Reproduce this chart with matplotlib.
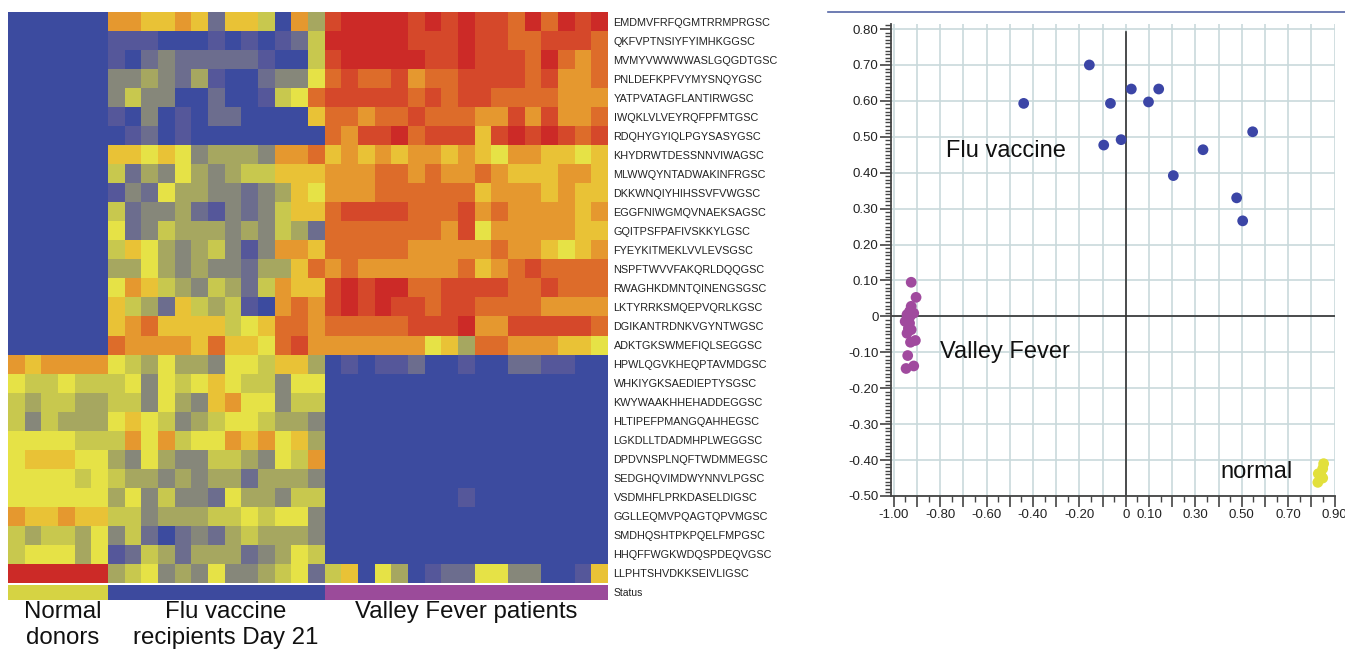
import matplotlib.pyplot as plt
import numpy as np
from matplotlib.colors import ListedColormap
from matplotlib.lines import Line2D
from matplotlib.ticker import MultipleLocator, FuncFormatter

plt.rcParams['font.family'] = ['Liberation Sans', 'DejaVu Sans']

# --- heatmap data (levels 0..B in hex: blue -> grey -> yellow -> orange -> red)
peptides = [
    "EMDMVFRFQGMTRRMPRGSC", "QKFVPTNSIYFYIMHKGGSC", "MVMYVWWWWASLGQGDTGSC",
    "PNLDEFKPFVYMYSNQYGSC", "YATPVATAGFLANTIRWGSC", "IWQKLVLVEYRQFPFMTGSC",
    "RDQHYGYIQLPGYSASYGSC", "KHYDRWTDESSNNVIWAGSC", "MLWWQYNTADWAKINFRGSC",
    "DKKWNQIYHIHSSVFVWGSC", "EGGFNIWGMQVNAEKSAGSC", "GQITPSFPAFIVSKKYLGSC",
    "FYEYKITMEKLVVLEVSGSC", "NSPFTWVVFAKQRLDQQGSC", "RWAGHKDMNTQINENGSGSC",
    "LKTYRRKSMQEPVQRLKGSC", "DGIKANTRDNKVGYNTWGSC", "ADKTGKSWMEFIQLSEGGSC",
    "HPWLQGVKHEQPTAVMDGSC", "WHKIYGKSAEDIEPTYSGSC", "KWYWAAKHHEHADDEGGSC",
    "HLTIPEFPMANGQAHHEGSC", "LGKDLLTDADMHPLWEGGSC", "DPDVNSPLNQFTWDMMEGSC",
    "SEDGHQVIMDWYNNVLPGSC", "VSDMHFLPRKDASELDIGSC", "GGLLEQMVPQAGTQPVMGSC",
    "SMDHQSHTPKPQELFMPGSC", "HHQFFWGKWDQSPDEQVGSC", "LLPHTSHVDKKSEIVLIGSC",
]

heat_normal = ["000000"] * 18 + [
    "878888", "655655", "545544", "535444", "666655", "677766",
    "666656", "666666", "877877", "545546", "566646", "BBBBBB",
]
heat_flu = [
    "8877872775084", "1110001010125", "1023222221005", "3343241002336",
    "3533002001569", "1030102200007", "0120100000000", "7767634443889",
    "5243643455777", "1326443323476", "5233421323577", "6235444343542",
    "5764345313887", "4464343324479", "6875435425877", "7542754510898",
    "7897777567998", "98888797769A8", "6546443665774", "5636567655366",
    "5536437866355", "6765345665443", "5868566878674", "4364335543658",
    "5443434424443", "4635332644355", "5534445565663", "3520232454443",
    "1254244423465", "4563436334562",
]
heat_vf = [
    "ABBBBABABAA9B9BAB", "BBBBBAAABAA99AAA9", "ABBBBBAABAAA9B989",
    "9A99A899AAAA9A889", "AAAAA9A9AA9999888", "99899A99988A8A889",
    "98AAB9AAA7ABABA9A", "78787887876887767", "88899898898777887",
    "88899999978887877", "9AAAA999A89888878", "99999998A68888877",
    "99999888889887678", "898888889789A9999", "ABABB99AAAA99A999",
    "ABABAA9AA99998888", "99999AAAB88AAAAA9", "88888867499888776",
    "01011200100221100", "00000000000000000", "00000000000000000",
    "00000000000000000", "00000000000000000", "00000000000000000",
    "00000000000000000", "00000000100000000", "00000000000000000",
    "00000000000000000", "00000000000000000", "57064012266330017",
]

level_colors = ['#3c4b9f', '#55579a', '#6c6d8e', '#86877a', '#a6a760', '#c8c84e',
                '#e6e246', '#e9c236', '#e5982f', '#dd6c2a', '#d5482a', '#cc2a27']

group_labels = ["Normal\ndonors", "Flu vaccine\nrecipients Day 21", "Valley Fever patients"]
group_sizes = [6, 13, 17]
status_colors = ['#d6d343', '#3d4a9e', '#9b4b9a']

# --- scatter data
flu_x = [-0.44, -0.157, 0.024, 0.142, -0.066, 0.098, -0.095, -0.02, 0.547, 0.333, 0.205, 0.478, 0.504]
flu_y = [0.593, 0.70, 0.633, 0.633, 0.593, 0.597, 0.477, 0.492, 0.514, 0.464, 0.392, 0.330, 0.266]
vf_x = [-0.925, -0.904, -0.925, -0.932, -0.914, -0.943, -0.951, -0.932, -0.937,
        -0.925, -0.943, -0.907, -0.928, -0.94, -0.947, -0.914, -0.93]
vf_y = [0.095, 0.053, 0.028, 0.014, 0.009, 0.005, -0.014, -0.019, -0.033,
        -0.037, -0.047, -0.067, -0.072, -0.109, -0.145, -0.138, -0.0]
nor_x = [0.853, 0.849, 0.83, 0.849, 0.828, 0.842]
nor_y = [-0.41, -0.424, -0.438, -0.45, -0.462, -0.443]

W, H = 1345, 651


def box(x0, y0, x1, y1):
    return [x0 / W, 1 - y1 / H, (x1 - x0) / W, (y1 - y0) / H]


fig = plt.figure(figsize=(W / 100, H / 100), dpi=100)

# heatmap
mat = np.array([[int(c, 16) for c in n + f + v]
                for n, f, v in zip(heat_normal, heat_flu, heat_vf)])
ax = fig.add_axes(box(8, 12, 608, 583))
ax.imshow(mat, cmap=ListedColormap(level_colors), vmin=-0.5, vmax=11.5,
          aspect='auto', interpolation='nearest')
ax.set_xticks([])
ax.yaxis.tick_right()
ax.set_yticks(range(len(peptides)))
ax.set_yticklabels(peptides, fontsize=7.8, color='#222222')
ax.tick_params(axis='y', length=0, pad=4)
for s in ax.spines.values():
    s.set_visible(False)

# status bar
status = np.repeat(np.arange(len(group_sizes)), group_sizes)[None, :]
axs = fig.add_axes(box(8, 584.5, 608, 600))
axs.imshow(status, cmap=ListedColormap(status_colors), aspect='auto', interpolation='nearest')
axs.set_xticks([])
axs.yaxis.tick_right()
axs.set_yticks([0])
axs.set_yticklabels(["Status"], fontsize=7.5, color='#222222')
axs.tick_params(axis='y', length=0, pad=4)
for s in axs.spines.values():
    s.set_visible(False)

for lab, xc in zip(group_labels, [63, 226, 466]):
    fig.text(xc / W, 1 - 601 / H, lab, ha='center', va='top', fontsize=17.3,
             color='#111111', linespacing=1.25)

# scatter
ax2 = fig.add_axes(box(891, 24, 1335, 496))
ax2.set_xlim(-1.012, 0.902)
ax2.set_ylim(-0.5, 0.814)
ax2.xaxis.set_major_locator(MultipleLocator(0.1))
ax2.xaxis.set_minor_locator(MultipleLocator(0.05))
ax2.yaxis.set_major_locator(MultipleLocator(0.1))
ax2.yaxis.set_minor_locator(MultipleLocator(0.01))

x_shown = [-1.0, -0.8, -0.6, -0.4, -0.2, 0.0, 0.1, 0.3, 0.5, 0.7, 0.9]


def fmt(v):
    if abs(v) < 1e-9:
        return "0"
    return f"{v:.2f}"


ax2.xaxis.set_major_formatter(FuncFormatter(
    lambda v, p: fmt(v) if np.any(np.isclose(v, x_shown)) else ""))
ax2.yaxis.set_major_formatter(FuncFormatter(lambda v, p: fmt(v)))

ax2.grid(True, which='major', color='#c9d9dc', lw=1.2)
ax2.set_axisbelow(True)
ax2.axhline(0, color='#333333', lw=1.2)
ax2.plot([0, 0], [-0.5, 0.793], color='#333333', lw=1.2)
for side in ['top', 'right']:
    ax2.spines[side].set_visible(False)
for side in ['left', 'bottom']:
    ax2.spines[side].set_color('#444444')
    ax2.spines[side].set_linewidth(1.3)
ax2.tick_params(which='major', direction='out', length=8, width=1.2, color='#444444',
                labelsize=9.5, labelcolor='#222222', pad=1)
ax2.tick_params(which='minor', direction='out', length=4, width=1.0, color='#444444')

ax2.scatter(flu_x, flu_y, s=60, color='#3b45a6', edgecolors='none', zorder=3)
ax2.scatter(vf_x, vf_y, s=60, color='#a04a9e', edgecolors='none', zorder=3)
ax2.scatter(nor_x, nor_y, s=60, color='#e2e03c', edgecolors='none', zorder=3)

ax2.text(-0.775, 0.46, "Flu vaccine", fontsize=17, va='center', color='#111111')
ax2.text(-0.80, -0.10, "Valley Fever", fontsize=17, va='center', color='#111111')
ax2.text(0.41, -0.434, "normal", fontsize=17, va='center', color='#111111')

fig.add_artist(Line2D([828 / W, 1], [1 - 12 / H, 1 - 12 / H], color='#5566a6', lw=1.2))

fig.savefig("out.png", dpi=100)
